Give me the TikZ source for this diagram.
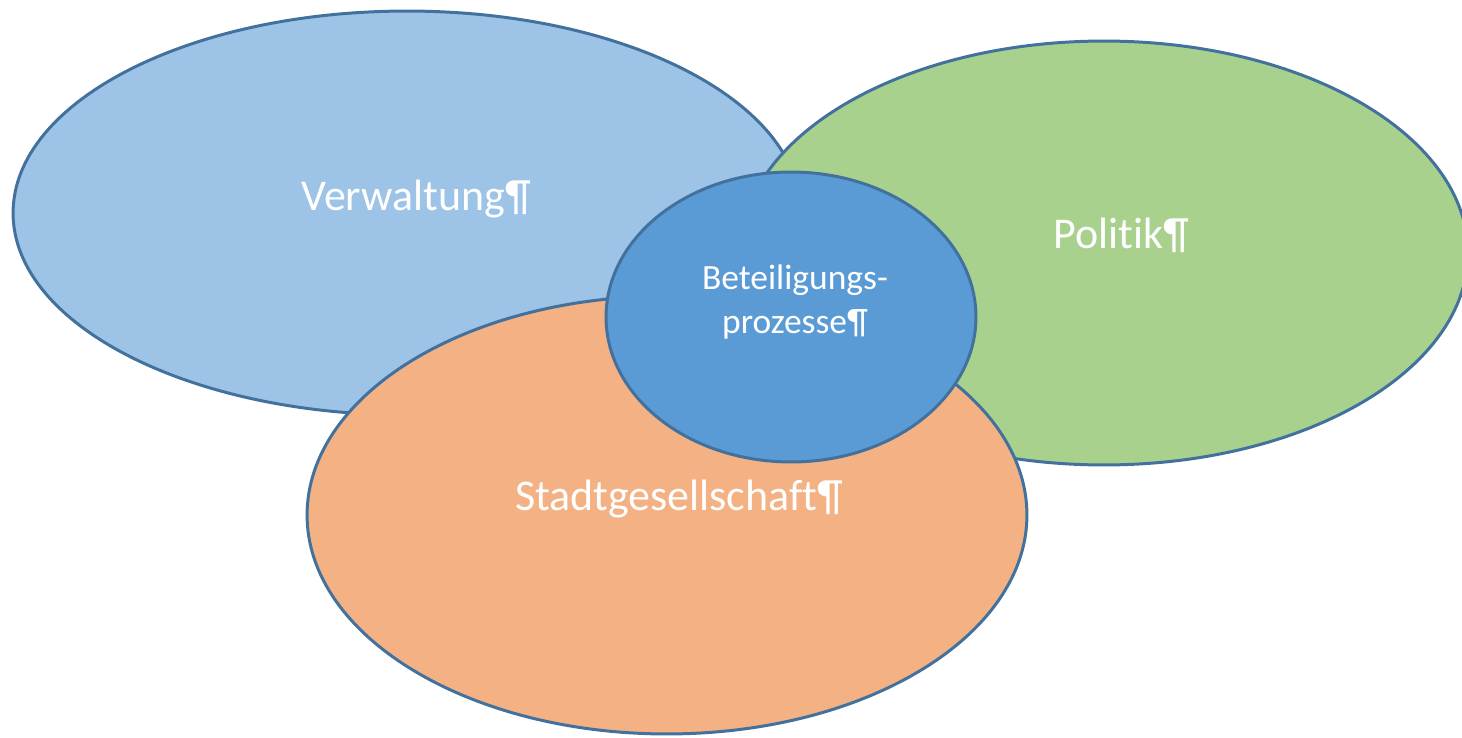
\documentclass[tikz,border=0pt]{standalone}
\usepackage{fontspec}
\setmainfont{Carlito}[Ligatures=NoCommon]
\usepackage{tikz}
\usetikzlibrary{shapes.geometric}

\definecolor{rimblue}{HTML}{41719C}
\definecolor{verwfill}{HTML}{9DC3E6}
\definecolor{polfill}{HTML}{A9D18E}
\definecolor{stadtfill}{HTML}{F4B183}
\definecolor{beteilfill}{HTML}{5B9BD5}

\begin{document}
\begin{tikzpicture}[x=0.02cm, y=-0.02cm,
  blob/.style={ellipse, draw=rimblue, line width=1.7pt, inner sep=0pt},
  lbl/.style={text=white, inner sep=0pt, font=\fontsize{25}{30}\selectfont}]
\useasboundingbox (0,0) rectangle (1462,737);
\node[blob, fill=verwfill, minimum width=15.76cm, minimum height=8.08cm] (verw) at (407, 213) {};
\node[blob, fill=polfill, minimum width=14.56cm, minimum height=8.48cm] (pol) at (1104, 253) {};
\node[blob, fill=stadtfill, minimum width=14.4cm, minimum height=8.76cm] (stadt) at (667, 515) {};
\node[blob, fill=beteilfill, minimum width=7.4cm, minimum height=5.8cm] (beteil) at (791, 317) {};
\node[lbl, anchor=base] (verwtext) at (416, 210) {Verwaltung¶};
\node[lbl, anchor=base] (poltext) at (1121, 248) {Politik¶};
\node[lbl, anchor=base] (stadttext) at (679, 510) {Stadtgesellschaft¶};
\node[lbl, align=center, font=\fontsize{20.2}{25}\selectfont] (beteiltext) at (795, 302) {Beteiligungs-\\prozesse¶};
\end{tikzpicture}
\end{document}
